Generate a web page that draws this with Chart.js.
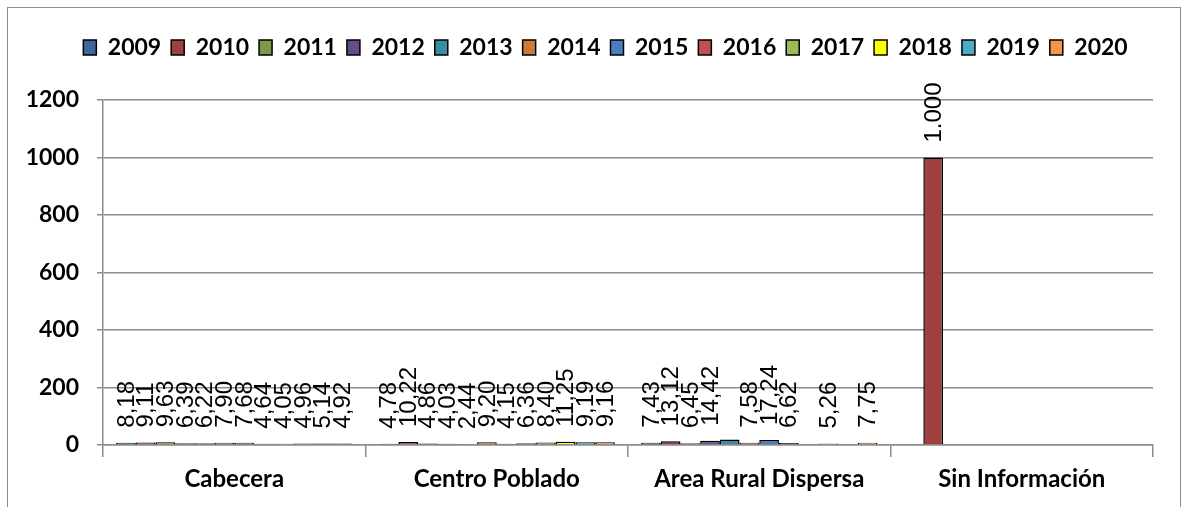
<!DOCTYPE html>
<html>
<head>
<meta charset="utf-8">
<script src="https://cdn.jsdelivr.net/npm/chart.js@4"></script>
<style>
  html, body { margin: 0; padding: 0; background: #fff; }
  #wrap { position: relative; width: 1186px; height: 507px; overflow: hidden; }
  #frame {
    position: absolute; left: 7px; top: 7px; width: 1172px; height: 520px;
    border: 1.5px solid #8c8c8c; pointer-events: none;
  }
</style>
</head>
<body>
<div id="wrap">
  <canvas id="chart" width="1186" height="507"></canvas>
  <div id="frame"></div>
</div>
<script>
const categories = ["Cabecera", "Centro Poblado", "Area Rural Dispersa", "Sin Información"];
const years = ["2009", "2010", "2011", "2012", "2013", "2014", "2015", "2016", "2017", "2018", "2019", "2020"];

// one value per year, 2009..2020
const cabecera       = [8.18, 9.11, 9.63, 6.39, 6.22, 7.90, 7.68, 4.64, 4.05, 4.96, 5.14, 4.92];
const centroPoblado  = [4.78, 10.22, 4.86, 4.03, 2.44, 9.20, 4.15, 6.36, 8.40, 11.25, 9.19, 9.16];
const ruralDispersa  = [7.43, 13.12, 6.45, 14.42, 19, 7.58, 17.24, 6.62, null, 5.26, null, 7.75];
const sinInformacion = [null, 1000, null, null, null, null, null, null, null, null, null, null];

// bars drawn without a value label
const unlabeled = [{ year: "2013", category: "Area Rural Dispersa" }];

const yTicks = { min: 0, max: 1200, step: 200 };

const colors = ["#3d679e", "#9e403e", "#7a9a46", "#644c89", "#3a8ea2", "#cf7a36",
                "#4a7ebf", "#c0504d", "#9bbb59", "#ffff00", "#4bacc6", "#f79646"];

const FONT = "Lato, 'Liberation Sans', sans-serif";
const GRID = "#8c8c8c";

function fmt(v) {
    if (v >= 1000) return Math.round(v).toString().replace(/\B(?=(\d{3})+(?!\d))/g, ".");
    return v.toFixed(2).replace(".", ",");
}

const datasets = years.map((y, j) => ({
    label: y,
    data: [cabecera[j], centroPoblado[j], ruralDispersa[j], sinInformacion[j]],
    backgroundColor: colors[j],
    borderColor: "#000",
    borderWidth: 1.5,
    categoryPercentage: 0.9,
    barPercentage: 1.0
}));

/* ---------- value labels, rotated ---------- */
const valueLabels = {
    id: "valueLabels",
    afterDatasetsDraw(chart) {
        const ctx = chart.ctx;
        ctx.save();
        ctx.font = "24px 'Liberation Sans', Arial, sans-serif";
        ctx.fillStyle = "#000";
        ctx.textAlign = "left";
        ctx.textBaseline = "middle";
        chart.data.datasets.forEach((ds, i) => {
            const meta = chart.getDatasetMeta(i);
            meta.data.forEach((bar, k) => {
                const v = ds.data[k];
                if (v == null) return;
                if (unlabeled.some(u => u.year === ds.label && u.category === categories[k])) return;
                ctx.save();
                ctx.translate(bar.x, bar.y - 15);
                ctx.rotate(-Math.PI / 2);
                ctx.fillText(fmt(v), 0, 1);
                ctx.restore();
            });
        });
        ctx.restore();
    }
};

/* ---------- legend: fixed height, nudged right ---------- */
const legendBox = {
    id: "legendBox",
    beforeUpdate(chart) {
        const lg = chart.legend;
        if (lg && !lg._fixed) {
            const fit = lg.fit;
            lg.fit = function () { fit.call(this); this.height = 74; };
            lg._fixed = true;
        }
    },
    afterLayout(chart) {
        const lg = chart.legend;
        lg.left += 29;
        lg.right += 29;
    }
};

new Chart(document.getElementById("chart"), {
    type: "bar",
    data: { labels: categories, datasets },
    options: {
        responsive: false,
        animation: false,
        events: [],
        layout: { padding: { top: 26, left: 0, right: 33, bottom: 0 } },
        plugins: {
            legend: {
                position: "top",
                labels: {
                    boxWidth: 13,
                    boxHeight: 15,
                    padding: 10,
                    color: "#000",
                    font: { family: FONT, size: 23, weight: "bold" }
                }
            },
            tooltip: { enabled: false }
        },
        scales: {
            x: {
                afterFit(s) { s.height = 62; },
                grid: { display: true, drawOnChartArea: false, offset: true, tickLength: 12, color: GRID, lineWidth: 1.5 },
                border: { color: GRID, width: 1.5 },
                ticks: { color: "#000", padding: 8, font: { family: FONT, size: 24, weight: "bold" } }
            },
            y: {
                min: yTicks.min,
                max: yTicks.max,
                afterFit(s) { s.width = 103; },
                grid: { color: GRID, lineWidth: 1.5, tickLength: 6 },
                border: { color: GRID, width: 1.5 },
                ticks: {
                    stepSize: yTicks.step,
                    color: "#000",
                    padding: 18,
                    font: { family: FONT, size: 23, weight: "bold" },
                    callback: v => String(v)
                }
            }
        }
    },
    plugins: [valueLabels, legendBox]
});
</script>
</body>
</html>
